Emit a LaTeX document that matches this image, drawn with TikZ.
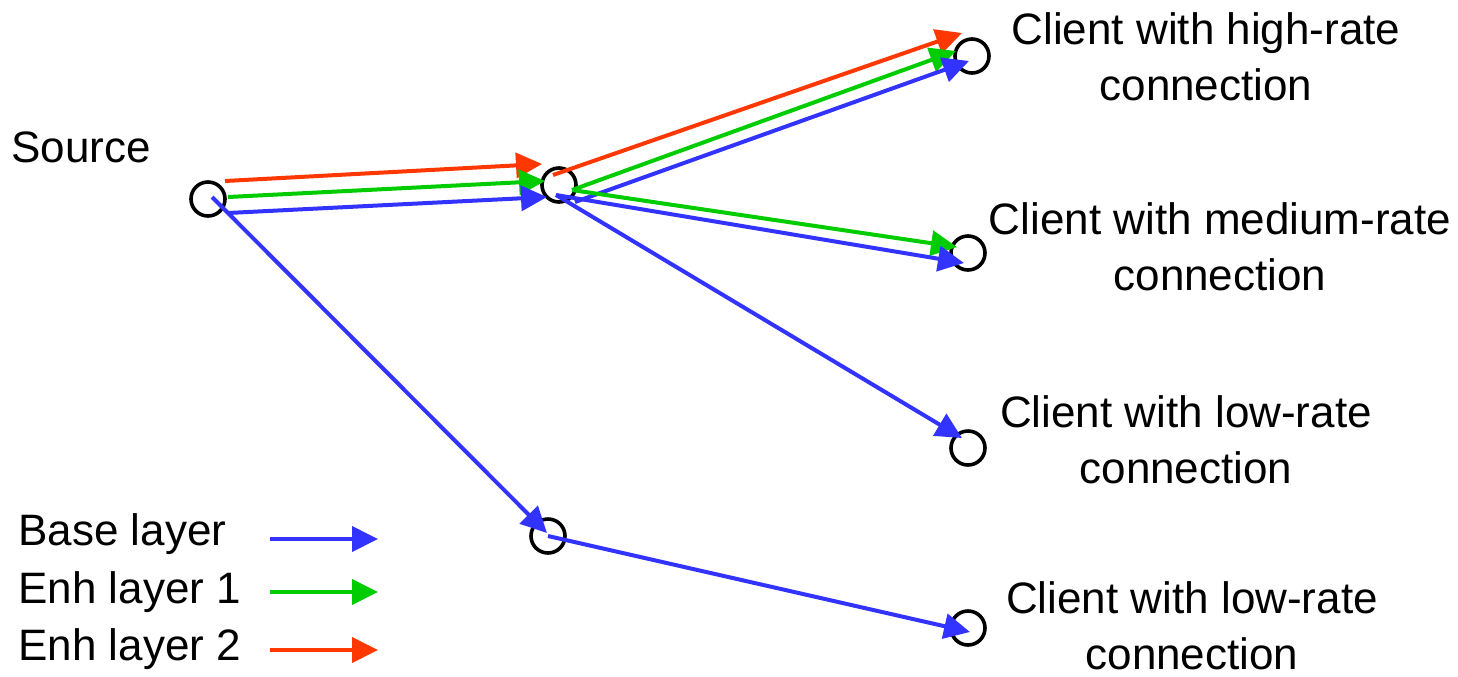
\documentclass[tikz,border=0pt]{standalone}
\usepackage{fontspec}
\setmainfont{Liberation Sans}
\usetikzlibrary{arrows.meta,calc}
\definecolor{lred}{RGB}{255,55,0}
\definecolor{lgreen}{RGB}{0,204,0}
\definecolor{lblue}{RGB}{51,51,255}
\tikzset{
  hub/.style={circle,draw=black,line width=1.8pt,minimum size=17pt,inner sep=0pt},
  layer/.style={line width=2pt,-{Triangle[length=13pt,width=12.5pt]}},
  base/.style={layer,draw=lblue},
  enha/.style={layer,draw=lgreen,fill=lgreen},
  enhb/.style={layer,draw=lred,fill=lred},
  lbl/.style={font=\fontsize{22}{28}\selectfont,inner sep=0pt,align=center}
}
\begin{document}
\begin{tikzpicture}[x=0.5pt,y=-0.5pt]
\useasboundingbox (0,0) rectangle (1458,676);
% nodes
\node[hub] (src) at (208,199) {};
\node[hub] (mid) at (559,185) {};
\node[hub] (bot) at (548,536) {};
\node[hub] (top) at (972,56) {};
\node[hub] (med) at (968,253) {};
\node[hub] (lowa) at (968,448) {};
\node[hub] (lowb) at (968,628) {};
% labels
\node[lbl,anchor=base] (srclbl) at (81,162) {Source};
\node[lbl,anchor=north] (toplbl) at (1206,12) {Client with high-rate\\connection};
\node[lbl,anchor=north] (medlbl) at (1220,202) {Client with medium-rate\\connection};
\node[lbl,anchor=north] (lowalbl) at (1186,395) {Client with low-rate\\connection};
\node[lbl,anchor=north] (lowblbl) at (1192,581) {Client with low-rate\\connection};
% source -> mid
\draw[enhb] ($(src)+(17,-18)$) -- ($(mid)+(-17,-21)$);
\draw[enha] ($(src)+(20,-2)$) -- ($(mid)+(-14,-4)$);
\draw[base] ($(src)+(20,14)$) -- ($(mid)+(-12,12)$);
\draw[base] ($(src)+(4,-2)$) -- ($(bot)+(-1,-3)$);
% mid -> top
\draw[enhb] ($(mid)+(-6,-10)$) -- ($(top)+(-10,-23)$);
\draw[enha] ($(mid)+(13,5)$) -- ($(top)+(-16,-5)$);
\draw[base] ($(mid)+(16,17)$) -- ($(top)+(-3,5)$);
% mid -> med
\draw[enha] ($(mid)+(13,5)$) -- ($(med)+(-11,-6)$);
\draw[base] ($(mid)+(-3,10)$) -- ($(med)+(-4,10)$);
% mid -> lowa
\draw[base] ($(mid)+(-3,10)$) -- ($(lowa)+(-6,-10)$);
% bot -> lowb
\draw[base] (bot.center) -- ($(lowb)+(2,4)$);
% legend
\node[lbl,anchor=base west] (lega) at (18,545) {Base layer};
\node[lbl,anchor=base west] (legb) at (18,603) {Enh layer 1};
\node[lbl,anchor=base west] (legc) at (18,660) {Enh layer 2};
\coordinate (las) at (270,539); \coordinate (lae) at (378,539);
\coordinate (lbs) at (270,592); \coordinate (lbe) at (378,592);
\coordinate (lcs) at (270,650); \coordinate (lce) at (378,650);
\draw[base] (las) -- (lae);
\draw[enha] (lbs) -- (lbe);
\draw[enhb] (lcs) -- (lce);
\end{tikzpicture}
\end{document}
